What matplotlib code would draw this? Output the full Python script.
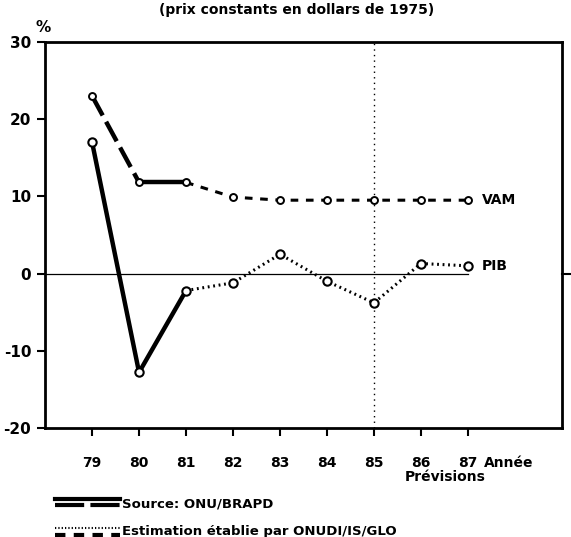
import matplotlib
matplotlib.use("Agg")
import matplotlib.pyplot as plt
from matplotlib.lines import Line2D
import matplotlib.transforms as mtransforms

years = [79, 80, 81, 82, 83, 84, 85, 86, 87]
vam = [23.0, 11.8, 11.8, 9.9, 9.5, 9.5, 9.5, 9.5, 9.5]
pib = [17.0, -12.8, -2.2, -1.2, 2.5, -1.0, -3.8, 1.3, 1.0]
yticks = [-20, -10, 0, 10, 20, 30]
xlabels = ["79", "80", "81", "82", "83", "84", "85", "86", "87"]

plt.rcParams['font.family'] = ['DejaVu Sans']
plt.rcParams['font.weight'] = 'bold'

fig = plt.figure(figsize=(5.71, 5.37), dpi=100)
ax = fig.add_axes([0.079, 0.203, 0.905, 0.719])
ax.set_xlim(78, 89)
ax.set_ylim(-20, 30)

# zero line and forecast line
ax.plot([78, 87], [0, 0], color='black', lw=0.9)
ax.axvline(85, color='black', lw=1.0, ls=(0, (1, 3)))

# VAM
ax.plot(years[0:2], vam[0:2], color='black', lw=3.2, ls=(0, (5, 1.6)), solid_capstyle='butt')
ax.plot(years[1:3], vam[1:3], color='black', lw=3.2)
ax.plot(years[2:], vam[2:], color='black', lw=2.2, ls=(0, (2.5, 2.5)))
# PIB
ax.plot(years[0:3], pib[0:3], color='black', lw=3.2)
ax.plot(years[2:], pib[2:], color='black', lw=2.2, ls=(0, (0.6, 1.2)))

ax.plot(years, vam, 'o', ms=5, mfc='white', mec='black', mew=1.4)
ax.plot(years, pib, 'o', ms=6, mfc='white', mec='black', mew=1.5)

ax.text(87.3, vam[-1], "VAM", ha='left', va='center', fontsize=10, fontweight='bold')
ax.text(87.3, pib[-1], "PIB", ha='left', va='center', fontsize=10, fontweight='bold')

for s in ax.spines.values():
    s.set_linewidth(2.0)

# single outward tick on right spine at 0
trans = mtransforms.blended_transform_factory(ax.transAxes, ax.transData)
ax.plot([1.0, 1.015], [0, 0], color='black', lw=1.5, transform=trans, clip_on=False)

ax.set_yticks(yticks)
ax.set_yticklabels([str(v) for v in yticks], fontsize=11, fontweight='bold')
ax.set_xticks(years)
ax.set_xticklabels(xlabels, fontsize=10, fontweight='bold')
ax.tick_params(axis='x', direction='out', length=6, width=1.5, pad=14)
ax.tick_params(axis='y', direction='out', length=6, width=1.5, pad=4)

fig.text(0.52, 0.982, "(prix constants en dollars de 1975)", ha='center', va='center',
         fontsize=10, fontweight='bold')
fig.text(0.075, 0.948, "%", ha='center', va='center', fontsize=11, fontweight='bold')
fig.text(0.848, 0.138, "Année", ha='left', va='center', fontsize=10, fontweight='bold')
fig.text(0.78, 0.112, "Prévisions", ha='center', va='center', fontsize=10, fontweight='bold')

# legend
x0, x1 = 0.096, 0.21
fig.add_artist(Line2D([x0, x1], [0.071, 0.071], transform=fig.transFigure, color='black', lw=3))
fig.add_artist(Line2D([x0, x1], [0.059, 0.059], transform=fig.transFigure, color='black', lw=3,
                      ls=(0, (7, 1.5))))
fig.text(0.214, 0.062, "Source: ONU/BRAPD", ha='left', va='center', fontsize=9.5, fontweight='bold')
fig.add_artist(Line2D([x0, x1], [0.016, 0.016], transform=fig.transFigure, color='black', lw=1.5,
                      ls=(0, (0.6, 1.0))))
fig.add_artist(Line2D([x0, x1], [0.003, 0.003], transform=fig.transFigure, color='black', lw=3,
                      ls=(0, (2.5, 2.0))))
fig.text(0.214, 0.010, "Estimation établie par ONUDI/IS/GLO", ha='left', va='center', fontsize=9.5,
         fontweight='bold')

fig.savefig("out.png", dpi=100, facecolor='white')
